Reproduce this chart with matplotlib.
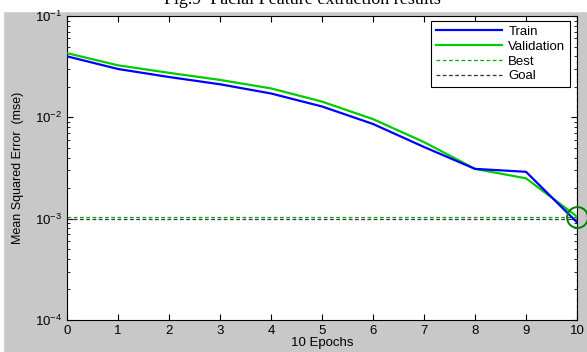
import matplotlib.pyplot as plt
from matplotlib.patches import Rectangle
from matplotlib.ticker import LogLocator, NullFormatter

epochs = [0, 1, 2, 3, 4, 5, 6, 7, 8, 9, 10]
train = [0.0400, 0.0300, 0.0250, 0.0212, 0.0172, 0.0128, 0.0086, 0.0051, 0.0031, 0.0029, 0.00092]
validation = [0.0430, 0.0326, 0.0275, 0.0234, 0.0193, 0.0143, 0.0096, 0.0057, 0.0031, 0.0025, 0.00105]
best_epoch = 10
best_perf = 0.00105
goal = 0.001
title = "Fig.9  Facial Feature extraction results"

plt.rcParams["font.family"] = ["Liberation Sans", "DejaVu Sans"]

fig = plt.figure(figsize=(5.87, 3.52), dpi=100, facecolor="#c8c8c8")
# white strip at the top and left where the page shows through
fig.patches.append(Rectangle((0, 1 - 11 / 352), 1, 11 / 352, transform=fig.transFigure,
                             color="white", zorder=-1))
fig.patches.append(Rectangle((0, 0), 3 / 587, 1, transform=fig.transFigure,
                             color="white", zorder=-1))
fig.text(0.515, 1 - 8 / 352, title, family="Liberation Serif", fontsize=13,
         ha="center", va="bottom")

ax = fig.add_axes([67 / 587, 1 - 320 / 352, 510 / 587, 304 / 352])
ax.set_facecolor("white")

ax.plot(epochs, train, color="#0000ff", lw=1.6, label="Train", zorder=4)
ax.plot(epochs, validation, color="#00cc00", lw=1.6, label="Validation", zorder=3)
ax.axhline(best_perf, color="#00aa00", ls=(0, (3, 2)), lw=0.9, label="Best")
ax.axvline(best_epoch, color="#00aa00", ls=(0, (3, 2)), lw=0.9)
ax.axhline(goal, color="#333333", ls=(0, (3, 2)), lw=0.9, label="Goal")
ax.plot([best_epoch], [best_perf], marker="o", ms=15, mfc="none", mec="#008000",
        mew=1.4, clip_on=False, zorder=5)

ax.set_yscale("log")
ax.set_xlim(0, 10)
ax.set_ylim(1e-4, 1e-1)
ax.set_xticks(epochs)
ax.yaxis.set_major_locator(LogLocator(base=10, numticks=10))
ax.yaxis.set_minor_locator(LogLocator(base=10, subs=range(2, 10), numticks=10))
ax.yaxis.set_minor_formatter(NullFormatter())
ax.tick_params(which="both", direction="in", top=True, right=True, labelsize=9.5)
ax.tick_params(which="major", length=4)
ax.tick_params(which="minor", length=2.5)
for s in ax.spines.values():
    s.set_linewidth(0.8)

ax.set_xlabel("10 Epochs", fontsize=9.5, labelpad=0)
ax.set_ylabel("Mean Squared Error  (mse)", fontsize=9, labelpad=8)

leg = ax.legend(loc="upper right", bbox_to_anchor=(1 - 7 / 510, 1 - 5 / 304),
                borderaxespad=0, fontsize=9.5, frameon=True, fancybox=False,
                edgecolor="black", framealpha=1, handlelength=5,
                borderpad=0.35, labelspacing=0.2, handletextpad=0.5)
leg.get_frame().set_linewidth(0.8)

fig.savefig("out.png", dpi=100, facecolor=fig.get_facecolor())
